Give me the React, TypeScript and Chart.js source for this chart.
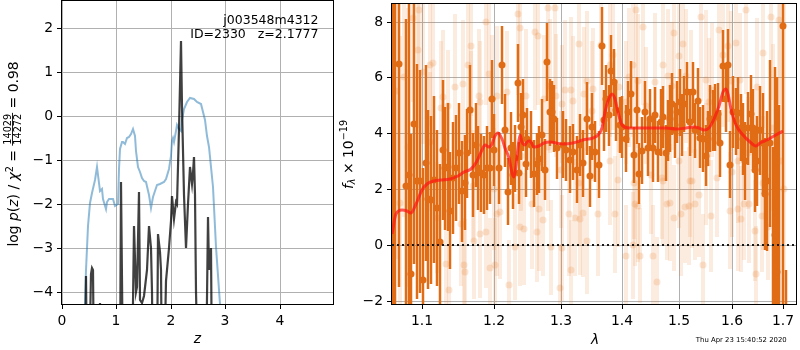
import React, { useEffect, useRef } from "react";
import { Chart, registerables } from "chart.js";

Chart.register(...registerables);

// ---------------- Left panel data: log p(z) ----------------
const zTicks = [0, 1, 2, 3, 4];
const logpTicks = [-4, -3, -2, -1, 0, 1, 2];

const chi2Z = [0.41, 0.45, 0.48, 0.51, 0.55, 0.60, 0.64, 0.66, 0.69, 0.73, 0.76, 0.80, 0.83, 0.86, 0.90, 0.94, 0.98, 1.02, 1.04, 1.06, 1.10, 1.13, 1.16, 1.20, 1.23, 1.27, 1.31, 1.34, 1.36, 1.39, 1.43, 1.47, 1.51, 1.55, 1.60, 1.64, 1.68, 1.75, 1.81, 1.87, 1.91, 1.97, 2.00, 2.02, 2.04, 2.06, 2.09, 2.12, 2.15, 2.18, 2.21, 2.25, 2.30, 2.36, 2.42, 2.48, 2.56, 2.62, 2.67, 2.71, 2.77, 2.83, 2.90, 2.94];
const chi2Val = [-5.0, -3.5, -2.5, -1.97, -1.75, -1.45, -1.17, -1.35, -1.7, -1.67, -1.9, -2.12, -1.95, -1.89, -1.9, -1.89, -2.04, -2.0, -1.2, -0.75, -0.6, -0.58, -0.63, -0.5, -0.48, -0.4, -0.29, -0.45, -0.8, -1.17, -1.28, -1.4, -1.47, -1.5, -1.8, -2.09, -1.85, -1.58, -1.55, -1.5, -1.43, -1.2, -0.9, -0.56, -0.5, -0.6, -0.35, -0.21, -0.3, -0.33, -0.1, 0.15, 0.33, 0.4, 0.38, 0.33, 0.28, -0.1, -0.45, -0.71, -1.62, -2.99, -4.28, -5.0];

const pzZ = [0.40, 0.43, 0.444, 0.46, 0.50, 0.53, 0.55, 0.57, 0.59, 0.67, 0.69, 0.71, 1.06, 1.093, 1.12, 1.28, 1.32, 1.355, 1.37, 1.407, 1.44, 1.47, 1.50, 1.56, 1.605, 1.63, 1.66, 1.68, 1.74, 1.77, 1.80, 1.82, 1.84, 1.88, 1.92, 1.96, 2.00, 2.03, 2.06, 2.09, 2.12, 2.15, 2.185, 2.21, 2.25, 2.28, 2.31, 2.35, 2.38, 2.40, 2.43, 2.45, 2.47, 2.49, 2.65, 2.68, 2.71, 2.735, 2.76, 2.80];
const pzVal = [-6, -6, -3.64, -6, -6, -3.6, -3.45, -3.5, -6, -6, -4.25, -6, -6, -1.51, -6, -6, -2.5, -4.0, -3.9, -1.74, -4.2, -4.25, -4.1, -3.5, -2.5, -3.0, -4.0, -6, -6, -2.69, -3.1, -3.5, -6, -6, -3.76, -3.0, -2.4, -1.81, -2.34, -1.95, -2.0, -0.3, 1.71, 0.2, -1.8, -3.0, -2.0, -1.17, -1.55, -1.3, -0.94, -1.8, -4.0, -6, -6, -2.31, -3.5, -3.0, -6, -6];

// ---------------- Right panel data: spectrum ----------------
const lamTicks = [1.1, 1.2, 1.3, 1.4, 1.5, 1.6, 1.7];
const fluxTicks = [-2, 0, 2, 4, 6, 8];

const darkLam = [1.0612, 1.0645, 1.070, 1.078, 1.082, 1.085, 1.089, 1.093, 1.097, 1.101, 1.105, 1.108, 1.112, 1.116, 1.120, 1.124, 1.128, 1.131, 1.135, 1.138, 1.142, 1.146, 1.150, 1.154, 1.158, 1.161, 1.165, 1.169, 1.173, 1.177, 1.181, 1.185, 1.190, 1.193, 1.197, 1.200, 1.207, 1.211, 1.216, 1.220, 1.224, 1.228, 1.231, 1.235, 1.237, 1.239, 1.243, 1.247, 1.249, 1.254, 1.259, 1.264, 1.267, 1.271, 1.275, 1.279, 1.283, 1.286, 1.290, 1.295, 1.304, 1.309, 1.315, 1.320, 1.326, 1.331, 1.336, 1.342, 1.347, 1.351, 1.356, 1.361, 1.366, 1.370, 1.374, 1.378, 1.382, 1.386, 1.390, 1.396, 1.401, 1.407, 1.411, 1.416, 1.420, 1.425, 1.430, 1.435, 1.439, 1.444, 1.449, 1.453, 1.457, 1.463, 1.467, 1.471, 1.476, 1.480, 1.484, 1.488, 1.493, 1.497, 1.502, 1.506, 1.510, 1.515, 1.520, 1.526, 1.529, 1.535, 1.539, 1.544, 1.549, 1.554, 1.558, 1.562, 1.567, 1.572, 1.577, 1.581, 1.587, 1.591, 1.595, 1.601, 1.606, 1.611, 1.616, 1.620, 1.625, 1.630, 1.636, 1.641, 1.645, 1.649, 1.655, 1.660, 1.665, 1.669, 1.674, 1.681, 1.685, 1.688, 1.693, 1.700, 1.708];
const darkVal = [9.5, -3.0, 6.49, 2.1, 2.5, -1.03, 4.32, 2.28, 2.28, -1.26, 2.93, 1.63, 1.6, 2.34, 1.33, 0.1, 3.4, 2.75, 2.8, 1.22, 2.4, 2.75, 3.28, 1.92, 2.22, 3.28, 4.85, 2.5, 3.58, 2.75, 2.57, 2.5, 2.75, 2.75, 5.23, 3.4, 2.75, 6.43, 4.1, 1.9, 3.46, 2.5, 3.1, 5.8, 2.57, 4.23, 4.66, 2.9, 3.8, 3.58, 2.55, 2.9, 3.07, 3.93, 2.7, 6.55, 4.76, 4.76, 4.52, 3.46, 3.58, 3.4, 3.05, 3.34, 2.7, 3.58, 2.93, 4.52, 2.46, 4.23, 3.34, 2.87, 7.14, 4.46, 5.23, 4.64, 6.23, 5.82, 4.82, 4.29, 4.23, 3.81, 4.76, 5.4, 3.22, 4.82, 2.55, 3.38, 4.76, 3.46, 4.5, 3.46, 4.64, 3.34, 4.4, 4.58, 3.28, 4.1, 4.52, 5.05, 4.1, 4.76, 5.11, 4.29, 5.05, 5.47, 4.4, 5.47, 4.1, 5.14, 3.84, 3.81, 3.2, 3.81, 4.52, 4.46, 4.58, 4.7, 3.64, 6.41, 5.23, 6.43, 2.87, 4.76, 4.43, 4.72, 4.19, 3.79, 3.01, 4.17, 4.7, 4.17, 2.67, 3.01, 4.1, 3.64, 1.83, 2.28, 3.64, -2.5, 0.37, -0.97, -3.0, 7.83, -4.0];
const darkErr = [12, 12, 8, 6, 6.5, 5, 5, 4.2, 4, 4, 3.5, 3.2, 3, 3, 2.8, 2.8, 2.5, 2.2, 2.3, 2.1, 2.0, 1.9, 1.8, 1.8, 1.7, 1.6, 1.6, 1.5, 1.5, 1.5, 1.4, 1.4, 1.5, 1.3, 1.4, 1.3, 1.3, 1.4, 1.3, 1.2, 1.3, 1.2, 1.2, 1.4, 1.1, 1.2, 1.3, 1.2, 1.1, 1.2, 1.2, 1.1, 1.2, 1.3, 1.1, 1.4, 1.2, 1.1, 1.2, 1.1, 1.2, 1.1, 1.2, 1.0, 1.2, 1.1, 1.2, 1.3, 1.1, 1.2, 1.1, 1.2, 1.4, 1.1, 1.2, 1.1, 1.3, 1.2, 1.1, 1.0, 1.1, 1.2, 1.1, 1.2, 1.0, 1.2, 1.1, 1.2, 1.1, 1.0, 1.1, 1.2, 1.0, 1.1, 1.2, 1.1, 1.0, 1.1, 1.2, 1.1, 1.0, 1.1, 1.2, 1.1, 1.0, 1.1, 1.2, 1.1, 1.0, 1.2, 1.1, 1.2, 1.1, 1.0, 1.2, 1.1, 1.2, 1.1, 1.2, 1.3, 1.2, 1.3, 1.2, 1.3, 1.2, 1.3, 1.2, 1.3, 1.4, 1.3, 1.4, 1.4, 1.5, 1.6, 1.6, 1.8, 2.0, 2.5, 3.0, 6, 6, 7, 8, 11, 3.1];

const faintHighLam = [1.087, 1.096, 1.094, 1.1005, 1.11, 1.114, 1.128, 1.135, 1.144, 1.155, 1.162, 1.166, 1.167, 1.178, 1.180, 1.188, 1.192, 1.196, 1.2035, 1.2185, 1.2345, 1.2385, 1.2475, 1.261, 1.2655, 1.2735, 1.281, 1.291, 1.2835, 1.2935, 1.3027, 1.3065, 1.317, 1.32, 1.3286, 1.337, 1.3416, 1.352, 1.3649, 1.3795, 1.385, 1.3957, 1.407, 1.4128, 1.4186, 1.4233, 1.4273, 1.436, 1.4419, 1.457, 1.471, 1.4797, 1.4872, 1.4913, 1.5, 1.5074, 1.5135, 1.5215, 1.5399, 1.5491, 1.5552, 1.5613, 1.5736, 1.5828, 1.592, 1.5982, 1.6075, 1.6138, 1.6264, 1.6484, 1.661, 1.6767, 1.6925];
const faintHighVal = [8.12, 8.42, 7.0, 6.21, 6.46, 6.53, 5.31, 4.99, 5.66, 5.75, 6.46, 7.12, 4.85, 5.35, 5.11, 8.0, 6.12, 5.21, 5.35, 5.47, 8.26, 7.77, 5.35, 7.62, 7.5, 5.23, 8.48, 8.48, 5.7, 5.35, 5.05, 5.56, 5.56, 5.17, 7.19, 5.41, 5.88, 5.58, 7.15, 6.45, 6.82, 5.64, 5.11, 6.0, 6.46, 8.42, 5.88, 7.8, 4.99, 5.82, 6.45, 6.06, 5.7, 7.59, 6.77, 7.18, 6.06, 5.49, 8.16, 5.9, 5.11, 5.56, 7.71, 6.82, 7.12, 5.88, 7.24, 5.9, 8.42, 5.64, 6.88, 8.18, 8.06];
const faintHighErr = [3.0, 2.5, 2.8, 2.6, 2.2, 2.9, 2.4, 2.0, 2.6, 2.3, 2.8, 2.5, 2.1, 2.4, 2.2, 3.0, 2.7, 2.3, 2.5, 2.2, 2.9, 2.6, 2.4, 2.8, 2.5, 2.3, 3.0, 2.9, 2.4, 2.2, 2.1, 2.5, 2.6, 2.3, 2.8, 2.4, 2.5, 2.2, 2.9, 2.6, 2.7, 2.3, 2.2, 2.5, 2.6, 3.0, 2.4, 2.8, 2.1, 2.5, 2.6, 2.4, 2.3, 2.7, 2.5, 2.8, 2.4, 2.2, 3.0, 2.5, 2.3, 2.4, 2.8, 2.6, 2.7, 2.5, 2.8, 2.4, 3.0, 2.5, 2.7, 3.0, 3.0];

const faintLowLam = [1.12, 1.1314, 1.136, 1.1523, 1.157, 1.1583, 1.1708, 1.1792, 1.1884, 1.193, 1.201, 1.2045, 1.2085, 1.221, 1.231, 1.2385, 1.2435, 1.256, 1.2635, 1.266, 1.2725, 1.2845, 1.2985, 1.3027, 1.3135, 1.3157, 1.3227, 1.3308, 1.3362, 1.3416, 1.3605, 1.3876, 1.393, 1.407, 1.4186, 1.4215, 1.4273, 1.4302, 1.4535, 1.4605, 1.471, 1.478, 1.4843, 1.4901, 1.503, 1.511, 1.5184, 1.5245, 1.5294, 1.5368, 1.5448, 1.5583, 1.5951, 1.6107, 1.617, 1.6233, 1.6327, 1.644, 1.6453, 1.6579, 1.6705];
const faintLowVal = [0.98, -0.67, -1.62, 0.74, -0.73, -0.97, 0.15, 0.39, 0.45, -0.83, -0.73, 1.1, 1.19, -1.44, -0.08, 0.63, 0.57, 1.45, 0.47, 1.28, 0.89, -0.08, -1.56, -0.11, 1.1, -0.89, 0.98, 0.92, 1.16, 0.15, 1.1, 1.1, 2.34, -0.38, -0.02, 1.45, 1.39, -0.38, -0.38, -1.32, 2.3, 1.45, 1.51, 0.98, 1.1, 1.36, 1.39, 2.28, 1.45, 1.78, -0.71, 1.04, 1.22, 1.28, 0.92, 1.45, 1.45, 0.51, -1.03, 1.04, 0.65];
const faintLowErr = [2.0, 1.8, 1.6, 2.2, 1.7, 1.9, 2.1, 2.3, 2.0, 1.8, 1.7, 2.2, 2.4, 1.6, 1.9, 2.1, 2.0, 2.3, 1.8, 2.2, 2.0, 1.7, 1.6, 1.9, 2.2, 1.8, 2.1, 2.0, 2.3, 1.9, 2.2, 2.1, 2.4, 1.8, 1.9, 2.2, 2.0, 1.7, 1.8, 1.6, 2.3, 2.0, 2.1, 1.9, 2.2, 2.0, 2.1, 2.4, 2.0, 2.2, 1.8, 2.0, 2.1, 2.2, 1.9, 2.0, 2.1, 1.8, 1.7, 2.0, 1.9];

const faintMidLam = [1.062, 1.066, 1.071, 1.076, 1.081, 1.11, 1.125, 1.17, 1.2, 1.24, 1.28, 1.3, 1.33, 1.35, 1.38, 1.42, 1.45, 1.47, 1.5, 1.52, 1.55, 1.57, 1.6, 1.61, 1.63, 1.66, 1.68, 1.695, 1.703];
const faintMidVal = [3.0, 5.5, 1.5, 6.0, 3.5, 3.7, 4.9, 2.1, 2.0, 3.2, 3.5, 2.7, 2.2, 4.8, 3.0, 2.2, 2.5, 2.4, 3.0, 2.3, 2.9, 2.4, 2.6, 3.0, 3.3, 2.2, 4.2, 3.0, 2.0];
const faintMidErr = [7, 6, 6, 5, 5, 2.5, 2.4, 2.0, 2.2, 2.0, 2.3, 2.1, 2.2, 2.5, 2.3, 2.0, 2.1, 2.2, 2.4, 2.0, 2.2, 2.1, 2.3, 2.2, 2.0, 2.4, 3.0, 7, 7];

const modelLam = [1.060, 1.066, 1.073, 1.080, 1.085, 1.091, 1.099, 1.106, 1.115, 1.125, 1.138, 1.148, 1.157, 1.166, 1.175, 1.182, 1.187, 1.192, 1.196, 1.201, 1.206, 1.211, 1.216, 1.221, 1.226, 1.229, 1.232, 1.235, 1.2375, 1.241, 1.245, 1.2485, 1.2535, 1.2595, 1.266, 1.2735, 1.2835, 1.2935, 1.3038, 1.32, 1.336, 1.352, 1.3605, 1.366, 1.3714, 1.3768, 1.384, 1.3876, 1.393, 1.401, 1.4128, 1.4419, 1.4651, 1.4767, 1.4942, 1.5123, 1.5276, 1.5368, 1.546, 1.5552, 1.5644, 1.5736, 1.5828, 1.5877, 1.592, 1.5982, 1.6075, 1.62, 1.6327, 1.6453, 1.655, 1.6673, 1.683, 1.70];
const modelVal = [0.39, 1.1, 1.24, 1.22, 1.16, 1.45, 1.98, 2.18, 2.3, 2.34, 2.36, 2.46, 2.61, 2.73, 3.01, 3.4, 3.58, 3.49, 3.6, 3.91, 4.01, 3.81, 3.46, 3.1, 2.57, 2.42, 2.81, 3.46, 3.93, 3.7, 3.58, 3.7, 3.72, 3.52, 3.55, 3.64, 3.67, 3.64, 3.61, 3.65, 3.75, 3.84, 3.93, 4.17, 4.76, 5.17, 5.41, 5.23, 4.76, 4.29, 4.17, 4.17, 4.2, 4.19, 4.14, 4.17, 4.23, 4.17, 4.11, 4.19, 4.52, 4.99, 5.47, 5.58, 5.41, 4.88, 4.29, 3.93, 3.72, 3.55, 3.64, 3.75, 3.91, 4.07];

const LAM_MIN = 1.0604;
const LAM_MAX = 1.7278;
const zeroLevel = 0;

const titleId = "j003548m4312";
const titleSub = "ID=2330   z=2.1777";
const timestamp = "Thu Apr 23 15:40:52 2020";

// ---------------- styling helpers ----------------
const FAM = "'DejaVu Sans', sans-serif";
const FN = `13.9px ${FAM}`;
const FI = `italic 13.9px ${FAM}`;
const FS = `9.7px ${FAM}`;
const FSI = `italic 9.7px ${FAM}`;
const DARK = "rgb(224,108,22)";

const pts = (xs: number[], ys: number[]) => xs.map((x, i) => ({ x, y: ys[i] }));
const fmtNum = (v: number, d: number) => v.toFixed(d).replace("-", "\u2212");

type Part = { t?: string; f: string; dy?: number; num?: string; den?: string };

function partWidth(ctx: CanvasRenderingContext2D, p: Part) {
  ctx.font = p.f;
  if (p.num !== undefined) {
    return Math.max(ctx.measureText(p.num).width, ctx.measureText(p.den || "").width) + 2;
  }
  return ctx.measureText(p.t || "").width;
}

function drawVertical(ctx: CanvasRenderingContext2D, parts: Part[], baseX: number, centerY: number) {
  ctx.save();
  let total = 0;
  parts.forEach((p) => (total += partWidth(ctx, p)));
  ctx.translate(baseX, centerY + total / 2);
  ctx.rotate(-Math.PI / 2);
  ctx.textAlign = "left";
  ctx.textBaseline = "alphabetic";
  ctx.fillStyle = "#000";
  let x = 0;
  parts.forEach((p) => {
    const w = partWidth(ctx, p);
    ctx.font = p.f;
    if (p.num !== undefined) {
      const wn = ctx.measureText(p.num).width;
      const wd = ctx.measureText(p.den || "").width;
      ctx.fillText(p.num, x + (w - wn) / 2, -7);
      ctx.fillText(p.den || "", x + (w - wd) / 2, 2.8);
      ctx.fillRect(x, -6.3, w, 0.9);
    } else {
      ctx.fillText(p.t || "", x, p.dy || 0);
    }
    x += w;
  });
  ctx.restore();
}

const spinePlugin = {
  id: "spines",
  afterDatasetsDraw(chart: any) {
    const { ctx, chartArea: a } = chart;
    ctx.save();
    ctx.strokeStyle = "#000";
    ctx.lineWidth = 1;
    ctx.strokeRect(Math.round(a.left) - 0.5, Math.round(a.top) - 0.5, Math.round(a.right - a.left) + 1, Math.round(a.bottom - a.top) + 1);
    ctx.restore();
  },
};

const errorBarPlugin = {
  id: "errbars",
  beforeDatasetDraw(chart: any, args: any) {
    const ds = chart.data.datasets[args.index];
    if (!ds.errors) return;
    const { ctx, chartArea: a, scales } = chart;
    const xs = scales.x;
    const ys = scales.y;
    ctx.save();
    ctx.beginPath();
    ctx.rect(a.left, a.top, a.right - a.left, a.bottom - a.top);
    ctx.clip();
    ctx.strokeStyle = ds.errorColor;
    ctx.lineWidth = ds.errorWidth;
    ctx.lineCap = "butt";
    ds.data.forEach((p: any, i: number) => {
      const e = ds.errors[i];
      const x = xs.getPixelForValue(p.x);
      ctx.beginPath();
      ctx.moveTo(x, ys.getPixelForValue(p.y - e));
      ctx.lineTo(x, ys.getPixelForValue(p.y + e));
      ctx.stroke();
    });
    ctx.restore();
  },
};

const leftTextPlugin = {
  id: "leftText",
  afterDraw(chart: any) {
    const { ctx } = chart;
    ctx.save();
    ctx.fillStyle = "#000";
    ctx.font = `12.5px ${FAM}`;
    ctx.textAlign = "right";
    ctx.textBaseline = "alphabetic";
    ctx.fillText(titleId, 318.5, 24);
    ctx.fillText(titleSub, 318.5, 38);
    ctx.font = FI;
    ctx.textAlign = "center";
    ctx.fillText("z", 197.5, 343);
    ctx.restore();
    drawVertical(
      ctx,
      [
        { t: "log ", f: FN },
        { t: "p", f: FI },
        { t: "(", f: FN },
        { t: "z", f: FI },
        { t: ")", f: FN },
        { t: " / ", f: FN },
        { t: "\u03c7", f: FI },
        { t: "2", f: FS, dy: -5.5 },
        { t: " = ", f: FN },
        { num: "14029", den: "14272", f: FS },
        { t: " = 0.98", f: FN },
      ],
      18.3,
      154
    );
  },
};

const rightTextPlugin = {
  id: "rightText",
  afterDraw(chart: any) {
    const { ctx } = chart;
    ctx.save();
    ctx.fillStyle = "#000";
    ctx.font = FI;
    ctx.textAlign = "center";
    ctx.textBaseline = "alphabetic";
    ctx.fillText("\u03bb", 259, 344);
    ctx.font = `6.9px ${FAM}`;
    ctx.textAlign = "right";
    ctx.fillText(timestamp, 450.7, 342);
    ctx.restore();
    drawVertical(
      ctx,
      [
        { t: "f", f: FI },
        { t: "\u03bb", f: FSI, dy: 2.5 },
        { t: " \u00d7 10", f: FN },
        { t: "\u221219", f: FS, dy: -5.5 },
      ],
      16.5,
      154.5
    );
  },
};

const axisCommon = (ticks: number[], decimals: number, size: { w?: number; h?: number }) => ({
  alignToPixels: true,
  afterBuildTicks: (s: any) => {
    s.ticks = ticks.map((v) => ({ value: v }));
  },
  afterFit: (s: any) => {
    if (size.w !== undefined) s.width = size.w;
    if (size.h !== undefined) s.height = size.h;
    s.paddingTop = 0;
    s.paddingBottom = 0;
    s.paddingLeft = 0;
    s.paddingRight = 0;
  },
  grid: { color: "#b0b0b0", lineWidth: 1, tickColor: "#000", tickLength: 5, drawTicks: true },
  border: { display: false },
  ticks: {
    font: { family: FAM, size: 13.9 },
    color: "#000",
    padding: 4,
    maxRotation: 0,
    minRotation: 0,
    autoSkip: false,
    callback: (v: any) => fmtNum(Number(v), decimals),
  },
});

export default function App() {
  const leftRef = useRef<HTMLCanvasElement>(null);
  const rightRef = useRef<HTMLCanvasElement>(null);

  useEffect(() => {
    const left = new Chart(leftRef.current as HTMLCanvasElement, {
      type: "scatter",
      data: {
        datasets: [
          {
            data: pts(chi2Z, chi2Val),
            showLine: true,
            borderColor: "rgba(31,119,180,0.5)",
            borderWidth: 2,
            pointRadius: 0,
            order: 2,
          },
          {
            data: pts(pzZ, pzVal),
            showLine: true,
            borderColor: "rgba(0,0,0,0.75)",
            borderWidth: 2.2,
            pointRadius: 0,
            order: 1,
          },
        ],
      } as any,
      options: {
        responsive: false,
        animation: false,
        devicePixelRatio: 1,
        layout: { padding: { left: 0, right: 3, top: 1, bottom: 0 } },
        plugins: { legend: { display: false }, tooltip: { enabled: false } },
        scales: {
          x: { type: "linear", min: 0, max: 4.98, ...axisCommon(zTicks, 0, { h: 46 }) } as any,
          y: { type: "linear", min: -4.28, max: 2.62, ...axisCommon(logpTicks, 0, { w: 62 }) } as any,
        },
      } as any,
      plugins: [spinePlugin, leftTextPlugin] as any,
    });

    const right = new Chart(rightRef.current as HTMLCanvasElement, {
      type: "scatter",
      data: {
        datasets: [
          {
            data: pts(faintHighLam, faintHighVal),
            errors: faintHighErr,
            errorColor: "rgba(232,125,45,0.15)",
            errorWidth: 4,
            backgroundColor: "rgba(232,125,45,0.2)",
            borderWidth: 0,
            pointRadius: 3.5,
            order: 6,
          },
          {
            data: pts(faintLowLam, faintLowVal),
            errors: faintLowErr,
            errorColor: "rgba(232,125,45,0.15)",
            errorWidth: 4,
            backgroundColor: "rgba(232,125,45,0.2)",
            borderWidth: 0,
            pointRadius: 3.5,
            order: 5,
          },
          {
            data: pts(faintMidLam, faintMidVal),
            errors: faintMidErr,
            errorColor: "rgba(232,125,45,0.15)",
            errorWidth: 4,
            backgroundColor: "rgba(232,125,45,0.2)",
            borderWidth: 0,
            pointRadius: 3.5,
            order: 4,
          },
          {
            data: pts(darkLam, darkVal),
            errors: darkErr,
            errorColor: DARK,
            errorWidth: 2.5,
            backgroundColor: DARK,
            borderWidth: 0,
            pointRadius: 3.5,
            order: 3,
          },
          {
            data: pts(modelLam, modelVal),
            showLine: true,
            borderColor: "rgba(255,20,20,0.7)",
            borderWidth: 3,
            pointRadius: 0,
            cubicInterpolationMode: "monotone",
            order: 2,
          },
          {
            data: [
              { x: LAM_MIN, y: zeroLevel },
              { x: LAM_MAX, y: zeroLevel },
            ],
            showLine: true,
            borderColor: "#1a1a1a",
            borderWidth: 2,
            borderDash: [2, 3],
            pointRadius: 0,
            order: 1,
          },
        ],
      } as any,
      options: {
        responsive: false,
        animation: false,
        devicePixelRatio: 1,
        layout: { padding: { left: 0, right: 1, top: 1, bottom: 0 } },
        plugins: { legend: { display: false }, tooltip: { enabled: false } },
        scales: {
          x: { type: "logarithmic", min: LAM_MIN, max: LAM_MAX, ...axisCommon(lamTicks, 1, { h: 46 }) } as any,
          y: { type: "linear", min: -2.117, max: 8.63, ...axisCommon(fluxTicks, 0, { w: 56 }) } as any,
        },
      } as any,
      plugins: [errorBarPlugin, spinePlugin, rightTextPlugin] as any,
    });

    return () => {
      left.destroy();
      right.destroy();
    };
  }, []);

  return (
    <div style={{ position: "absolute", left: 0, top: 0, width: 800, height: 350, background: "#fff" }}>
      <canvas
        ref={leftRef}
        width={336}
        height={350}
        style={{ position: "absolute", left: 0, top: 0, width: 336, height: 350 }}
      />
      <canvas
        ref={rightRef}
        width={464}
        height={350}
        style={{ position: "absolute", left: 336, top: 0, width: 464, height: 350 }}
      />
    </div>
  );
}
